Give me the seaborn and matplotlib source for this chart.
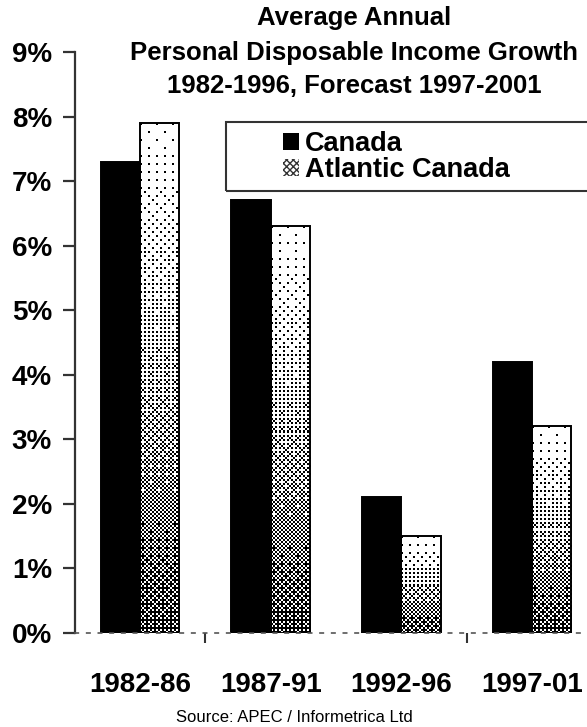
import numpy as np
import pandas as pd
import matplotlib
matplotlib.use("Agg")
import matplotlib.pyplot as plt
from matplotlib.patches import Patch, Rectangle
import seaborn as sns

# ---- data -------------------------------------------------------------
periods = ["1982-86", "1987-91", "1992-96", "1997-01"]
regions = ["Canada", "Atlantic Canada"]
canada = [7.3, 6.7, 2.1, 4.2]
atlantic = [7.9, 6.3, 1.5, 3.2]
ytick_values = [0, 1, 2, 3, 4, 5, 6, 7, 8, 9]
title_lines = ["Average Annual",
               "Personal Disposable Income Growth",
               "1982-1996, Forecast 1997-2001"]
source_text = "Source: APEC / Informetrica Ltd"

df = pd.DataFrame({
    "period": periods * 2,
    "region": [regions[0]] * len(periods) + [regions[1]] * len(periods),
    "growth": canada + atlantic,
})

# ---- style ------------------------------------------------------------
sns.set_theme(style="white")
plt.rcParams["font.family"] = ["Liberation Sans", "DejaVu Sans"]
plt.rcParams["text.color"] = "black"
plt.rcParams["xtick.color"] = "black"
plt.rcParams["ytick.color"] = "black"

W, H = 587, 727
fig = plt.figure(figsize=(W / 100, H / 100), dpi=100)
fig.patch.set_facecolor("white")

def fx(px):
    return px / W

def fy(py):
    return 1 - py / H

ax = fig.add_axes([fx(75), fy(633), fx(587) - fx(75), fy(52) - fy(633)])

sns.barplot(data=df, x="period", y="growth", hue="region",
            palette=["black", "white"], width=0.6, gap=0,
            edgecolor="black", linewidth=1.4, legend=False, ax=ax)

# ---- dithered gradient fill for the Atlantic Canada bars ---------------
def bayer(n):
    m = np.array([[0, 2], [3, 1]])
    while m.shape[0] < n:
        m = np.block([[4 * m, 4 * m + 2], [4 * m + 3, 4 * m + 1]])
    return (m + 0.5) / m.size

thr_matrix = bayer(8)
ax.set_xlim(-0.497, 3.42)
ax.set_ylim(0, 9)
fig.canvas.draw()

for bar in ax.containers[1]:
    bb = bar.get_window_extent()
    cell = 2.0
    nx = max(1, int(round(bb.width / cell)))
    ny = max(1, int(round(bb.height / cell)))
    t = (np.arange(ny) + 0.5) / ny
    level = 0.03 + 0.68 * t ** 1.3
    thr = thr_matrix[np.arange(ny)[:, None] % 8, np.arange(nx)[None, :] % 8]
    ink = (level[:, None] > thr).astype(float)
    x0, w, h = bar.get_x(), bar.get_width(), bar.get_height()
    im = ax.imshow(ink, cmap="gray_r", vmin=0, vmax=1,
                   extent=(x0, x0 + w, 0, h), origin="upper",
                   interpolation="nearest", aspect="auto", zorder=0.9)
    im.set_clip_path(bar)
    bar.set_facecolor("none")
    bar.set_zorder(1.0)

ax.set_xlim(-0.497, 3.42)
ax.set_ylim(0, 9)

# ---- axes -------------------------------------------------------------
for side in ["top", "right"]:
    ax.spines[side].set_visible(False)
ax.spines["left"].set_color("#333333")
ax.spines["left"].set_linewidth(1.6)
ax.spines["bottom"].set_color("#555555")
ax.spines["bottom"].set_linewidth(1.2)
ax.spines["bottom"].set_linestyle((0, (2, 5)))

ax.set_yticks(ytick_values)
ax.set_yticklabels([f"{v}%" for v in ytick_values])
ax.tick_params(axis="y", which="major", direction="out", length=8.5,
               width=1.6, color="#333333", pad=8, left=True,
               labelsize=20, labelcolor="black")
for lab in ax.get_yticklabels():
    lab.set_fontweight("bold")

ax.set_xticks(range(len(periods)))
ax.set_xticklabels(periods)
ax.tick_params(axis="x", which="major", length=0, pad=28, labelsize=20,
               labelcolor="black")
for lab in ax.get_xticklabels():
    lab.set_fontweight("bold")
ax.set_xticks([0.5, 2.5], minor=True)
ax.tick_params(axis="x", which="minor", direction="out", length=7,
               width=1.5, color="#333333", bottom=True)

ax.set_xlabel("")
ax.set_ylabel("")
ax.grid(False)

# ---- title and source -------------------------------------------------
for text, ypx in zip(title_lines, [18, 53, 86]):
    fig.text(fx(354), fy(ypx), text, ha="center", va="center",
             fontsize=18.5, fontweight="bold", color="black")
fig.text(fx(294), fy(717), source_text, ha="center", va="center",
         fontsize=12, color="black")

# ---- legend -----------------------------------------------------------
handles = [
    Patch(facecolor="black", edgecolor="black", linewidth=0),
    Patch(facecolor="white", edgecolor="#333333", hatch="xxxxx", linewidth=0),
]
fig.legend(handles, regions, loc="upper left",
           bbox_to_anchor=(fx(283), fy(131)), borderaxespad=0, borderpad=0,
           handlelength=0.6, handleheight=0.6, handletextpad=0.2,
           labelspacing=0.0, frameon=False,
           prop={"weight": "bold", "size": 19.5})
fig.patches.append(Rectangle((fx(226), fy(191)), fx(700) - fx(226),
                             fy(122) - fy(191), transform=fig.transFigure,
                             fill=False, edgecolor="#333333", linewidth=1.5,
                             clip_on=False))

fig.savefig("out.png", dpi=100, facecolor="white")
